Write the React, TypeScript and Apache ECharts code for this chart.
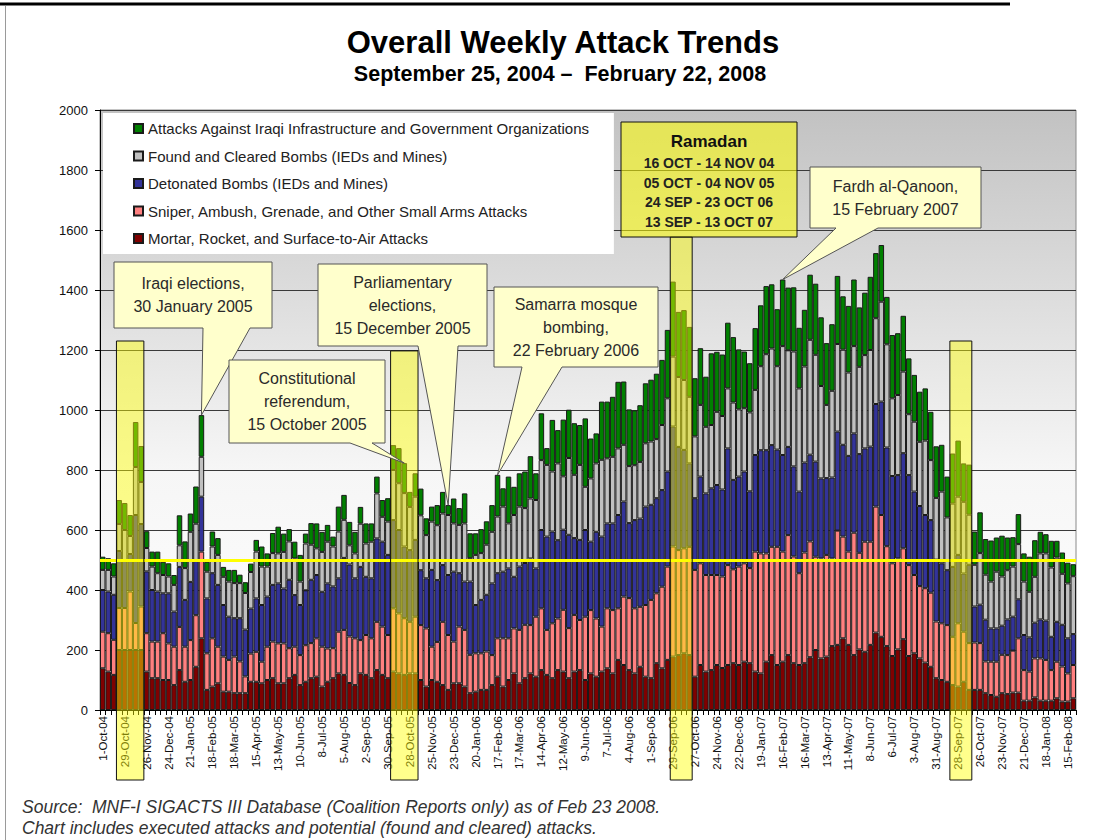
import React, { useEffect, useRef } from "react";
import * as echarts from "echarts";

const FONT = '"Liberation Sans", Arial, Helvetica, sans-serif';

const MONTHS = ["Jan", "Feb", "Mar", "Apr", "May", "Jun", "Jul", "Aug", "Sep", "Oct", "Nov", "Dec"];
const WEEK_COUNT = 178;
// week-ending dates, 1-Oct-04 ... 22-Feb-08
const weeks: string[] = Array.from({ length: WEEK_COUNT }, (_, i) => {
  const d = new Date(Date.UTC(2004, 9, 1 + 7 * i));
  return `${d.getUTCDate()}-${MONTHS[d.getUTCMonth()]}-${String(d.getUTCFullYear()).slice(2)}`;
});

const seriesNames = [
  "Attacks Against Iraqi Infrastructure and Government Organizations",
  "Found and Cleared Bombs (IEDs and Mines)",
  "Detonated Bombs (IEDs and Mines)",
  "Sniper, Ambush, Grenade, and Other Small Arms Attacks",
  "Mortar, Rocket, and Surface-to-Air Attacks",
];

const mortar = [
  139, 128, 117, 200, 200, 200, 200, 200, 128, 106,
  106, 100, 100, 83, 133, 94, 100, 144, 239, 67,
  78, 89, 61, 61, 56, 56, 56, 94, 94, 89,
  100, 106, 89, 89, 106, 117, 83, 94, 106, 111,
  78, 94, 106, 122, 117, 90, 83, 122, 117, 106,
  133, 117, 106, 128, 122, 117, 122, 122, 100, 78,
  100, 94, 83, 67, 89, 89, 78, 56, 61, 67,
  67, 83, 111, 78, 100, 122, 89, 106, 122, 111,
  133, 117, 106, 133, 128, 106, 128, 133, 100, 122,
  111, 128, 139, 122, 167, 150, 133, 122, 144, 111,
  106, 156, 139, 167, 178, 183, 189, 183, 111, 150,
  128, 133, 150, 140, 150, 156, 150, 161, 156, 128,
  122, 161, 183, 150, 161, 183, 156, 150, 156, 176,
  200, 172, 178, 213, 217, 239, 217, 183, 202, 194,
  217, 258, 244, 213, 180, 202, 236, 180, 189, 172,
  158, 144, 106, 100, 94, 83, 78, 94, 67, 67,
  67, 56, 50, 44, 56, 53, 58, 58, 31, 31,
  42, 31, 31, 31, 39, 28, 28, 39,
];

const smallArms = [
  122, 128, 117, 140, 140, 195, 90, 145, 128, 122,
  122, 156, 122, 128, 144, 117, 133, 172, 289, 122,
  161, 122, 117, 106, 122, 106, 56, 94, 100, 72,
  111, 122, 133, 133, 100, 94, 100, 122, 117, 128,
  133, 111, 100, 139, 150, 155, 156, 111, 133, 133,
  161, 161, 144, 211, 200, 189, 172, 189, 183, 194,
  111, 133, 211, 183, 139, 189, 189, 128, 128, 122,
  128, 100, 128, 161, 139, 150, 178, 178, 161, 200,
  206, 150, 183, 172, 206, 167, 189, 167, 211, 211,
  194, 150, 200, 211, 172, 228, 240, 217, 200, 239,
  261, 233, 272, 311, 367, 350, 350, 361, 356, 339,
  322, 317, 300, 305, 333, 313, 328, 328, 317, 400,
  400, 361, 361, 394, 367, 400, 356, 306, 369, 386,
  311, 333, 339, 292, 381, 339, 311, 408, 322, 367,
  344, 420, 406, 333, 309, 303, 303, 303, 261, 241,
  248, 247, 189, 189, 189, 161, 211, 167, 156, 158,
  156, 106, 111, 117, 128, 130, 140, 181, 102, 97,
  130, 141, 136, 102, 122, 117, 94, 111,
];

const detonated = [
  139, 139, 150, 190, 160, 125, 360, 275, 206, 172,
  167, 133, 167, 117, 200, 156, 194, 183, 183, 183,
  217, 206, 172, 144, 128, 144, 156, 150, 178, 189,
  167, 189, 200, 183, 228, 172, 167, 183, 211, 211,
  183, 217, 206, 178, 240, 240, 200, 244, 194, 200,
  278, 283, 267, 294, 278, 239, 239, 256, 183, 167,
  256, 206, 189, 200, 233, 178, 161, 244, 161, 178,
  189, 239, 217, 222, 233, 172, 211, 206, 222, 161,
  261, 311, 306, 261, 267, 311, 256, 267, 289, 228,
  289, 300, 283, 289, 311, 317, 250, 294, 294, 328,
  317, 317, 322, 317, 400, 344, 328, 278, 239, 289,
  272, 289, 300, 290, 389, 298, 300, 306, 256, 322,
  344, 344, 339, 324, 322, 294, 300, 272, 300, 289,
  317, 267, 256, 270, 330, 306, 319, 331, 329, 311,
  317, 342, 378, 329, 291, 278, 317, 300, 278, 267,
  244, 242, 206, 200, 183, 233, 228, 194, 261, 120,
  128, 139, 111, 111, 97, 119, 113, 130, 117, 114,
  119, 130, 131, 111, 133, 139, 117, 103,
];

const foundCleared = [
  67, 72, 61, 90, 100, 60, 160, 140, 78, 78,
  61, 61, 56, 89, 72, 106, 167, 122, 133, 89,
  89, 100, 94, 117, 117, 117, 122, 122, 156, 128,
  100, 106, 100, 122, 128, 122, 78, 156, 117, 89,
  133, 139, 133, 156, 127, 64, 83, 144, 111, 122,
  150, 83, 111, 167, 156, 178, 144, 144, 183, 144,
  161, 183, 172, 200, 161, 161, 194, 78, 167, 156,
  167, 172, 189, 217, 150, 206, 200, 183, 200, 228,
  233, 239, 200, 256, 178, 256, 211, 250, 144, 211,
  228, 256, 217, 222, 222, 189, 190, 183, 189, 211,
  211, 197, 217, 244, 233, 233, 233, 222, 206, 239,
  222, 211, 244, 245, 200, 258, 224, 211, 263, 217,
  280, 320, 322, 278, 363, 322, 383, 344, 320, 383,
  356, 308, 244, 289, 292, 317, 278, 291, 291, 311,
  322, 286, 333, 344, 259, 267, 272, 203, 233, 214,
  248, 200, 206, 239, 176, 211, 194, 239, 167, 139,
  172, 150, 156, 189, 164, 164, 167, 184, 178, 152,
  153, 220, 224, 231, 214, 170, 183, 193,
];

const infrastructure = [
  44, 39, 44, 80, 90, 70, 150, 120, 56, 50,
  72, 44, 44, 33, 100, 89, 61, 124, 139, 33,
  50, 56, 33, 39, 44, 28, 36, 28, 39, 67,
  44, 67, 89, 61, 41, 56, 89, 33, 72, 83,
  67, 56, 33, 83, 83, 78, 72, 56, 67, 61,
  56, 56, 78, 83, 117, 100, 50, 78, 89, 56,
  50, 67, 72, 33, 83, 56, 100, 83, 72, 80,
  78, 89, 139, 61, 156, 94, 111, 122, 141, 89,
  156, 56, 172, 111, 189, 161, 172, 133, 228, 133,
  100, 194, 189, 200, 222, 211, 189, 183, 189, 200,
  206, 218, 217, 228, 250, 217, 233, 233, 194, 189,
  167, 239, 200, 205, 219, 218, 200, 189, 164, 206,
  203, 227, 214, 190, 222, 209, 214, 202, 189, 217,
  237, 229, 206, 222, 227, 178, 222, 222, 198, 208,
  244, 217, 189, 158, 211, 206, 186, 186, 156, 167,
  174, 161, 172, 156, 136, 167, 187, 128, 167, 111,
  136, 119, 137, 114, 136, 109, 98, 100, 94, 117,
  122, 72, 64, 89, 56, 71, 69, 40,
];

// Ramadan periods as [first week index, last week index]
const ramadanWeeks = [
  [3, 7],
  [53, 57],
  [104, 107],
  [155, 158],
];
const ramadanLines = ["16 OCT - 14 NOV 04", "05 OCT - 04 NOV 05", "24 SEP - 23 OCT 06", "13 SEP - 13 OCT 07"];
const referenceLevel = 500;

// Event callouts: week index the pointer touches
const events = [
  { week: 18, lines: ["Iraqi elections,", "30 January 2005"] },
  { week: 55, lines: ["Constitutional", "referendum,", "15 October 2005"] },
  { week: 63, lines: ["Parliamentary", "elections,", "15 December 2005"] },
  { week: 72, lines: ["Samarra mosque", "bombing,", "22 February 2006"] },
  { week: 124, lines: ["Fardh al-Qanoon,", "15 February 2007"] },
];

// layout (pixels) for callout boxes: [x1, y1, x2, y2], pointer base [bx1, bx2]
const calloutLayout = [
  { box: [114, 262, 272, 328], base: [203, 250] },
  { box: [229, 360, 385, 443], base: [350, 372] },
  { box: [318, 264, 487, 346], base: [418, 458] },
  { box: [494, 287, 658, 367], base: [522, 562] },
  { box: [810, 167, 981, 228], base: [836, 878] },
];
const highlightTopValue = [1230, 1197, null, 1230];

const COLORS = ["#008000", "#c0c0c0", "#333399", "#ff8080", "#800000"];

export default function App() {
  const ref = useRef<HTMLDivElement>(null);

  useEffect(() => {
    const chart = echarts.init(ref.current as HTMLDivElement, null, { renderer: "svg" });
    const stackData = [mortar, smallArms, detonated, foundCleared, infrastructure];
    const stackNames = [seriesNames[4], seriesNames[3], seriesNames[2], seriesNames[1], seriesNames[0]];
    const stackColors = [COLORS[4], COLORS[3], COLORS[2], COLORS[1], COLORS[0]];

    const series: any[] = stackData.map((d, k) => ({
      name: stackNames[k],
      type: "bar",
      stack: "total",
      data: d,
      barCategoryGap: "0%",
      itemStyle: { color: stackColors[k], borderColor: "#1a1a1a", borderWidth: 1 },
      emphasis: { disabled: true },
      ...(k === 4
        ? {
            markLine: {
              silent: true,
              symbol: "none",
              label: { show: false },
              lineStyle: { color: "#ffff00", width: 3, type: "solid" },
              data: [{ yAxis: referenceLevel }],
            },
          }
        : {}),
    }));

    const option: any = {
      animation: false,
      backgroundColor: "#ffffff",
      textStyle: { fontFamily: FONT },
      legend: {
        orient: "vertical",
        left: 103,
        top: 113,
        data: seriesNames,
        backgroundColor: "#ffffff",
        padding: [8, 24, 8, 30],
        itemWidth: 9,
        itemHeight: 9,
        itemGap: 12.5,
        icon: "rect",
        textStyle: { fontSize: 15, color: "#222", fontFamily: FONT },
        selectedMode: false,
      },
      grid: {
        left: 100,
        right: 37,
        top: 110,
        bottom: 130,
        show: true,
        backgroundColor: new echarts.graphic.LinearGradient(0, 0, 0, 1, [
          { offset: 0, color: "#c2c2c2" },
          { offset: 0.6, color: "#f6f6f6" },
          { offset: 1, color: "#ffffff" },
        ]),
        borderColor: "#8a8a8a",
        borderWidth: 1,
      },
      xAxis: {
        type: "category",
        data: weeks,
        axisLine: { lineStyle: { color: "#000", width: 1 } },
        axisTick: { show: true, interval: 0, length: 5, lineStyle: { color: "#000" } },
        axisLabel: { interval: 3, rotate: 90, fontSize: 11.5, color: "#111", margin: 6, fontFamily: FONT },
        splitLine: { show: false },
      },
      yAxis: {
        type: "value",
        min: 0,
        max: 2000,
        interval: 200,
        axisLine: { show: true, lineStyle: { color: "#000" } },
        axisTick: { show: true, length: 5, lineStyle: { color: "#000" } },
        axisLabel: { fontSize: 13, color: "#111", margin: 12, fontFamily: FONT, formatter: (v: number) => String(v) },
        splitLine: { show: true, lineStyle: { color: "#3a3a3a", width: 1 } },
      },
      series,
    };
    chart.setOption(option);

    const px = (i: number, v: number) => chart.convertToPixel({ gridIndex: 0 }, [i, v]) as number[];
    const bw = px(1, 0)[0] - px(0, 0)[0];
    const totals = weeks.map((_, i) => stackData.reduce((s, arr) => s + arr[i], 0));

    const els: any[] = [];
    const txt = (text: string, x: number, y: number, font: string, fill = "#222", align = "center", lineHeight?: number, z = 60) => ({
      type: "text",
      x,
      y,
      z,
      silent: true,
      style: {
        text,
        font,
        fill,
        align,
        verticalAlign: "middle",
        textAlign: align,
        textVerticalAlign: "middle",
        lineHeight,
      },
    });

    // page frame
    els.push({ type: "line", z: 1, shape: { x1: 0, y1: 4, x2: 1010, y2: 4 }, style: { stroke: "#000", lineWidth: 3 } });
    els.push({ type: "line", z: 1, shape: { x1: 5.5, y1: 6, x2: 5.5, y2: 840 }, style: { stroke: "#9a9a9a", lineWidth: 1 } });

    // titles
    els.push(txt("Overall Weekly Attack Trends", 563, 42, `bold 31px ${FONT}`, "#000"));
    els.push(txt("September 25, 2004 \u2013  February 22, 2008", 560, 74, `bold 21.5px ${FONT}`, "#000"));

    // Ramadan highlight columns
    const ramBox = [621, 122, 797, 237];
    const labelBottom = 780;
    ramadanWeeks.forEach(([a, b], k) => {
      const x1 = px(a, 0)[0] - bw / 2;
      const x2 = px(b, 0)[0] + bw / 2;
      const topV = highlightTopValue[k];
      const y1 = topV == null ? ramBox[3] : px(a, topV)[1];
      els.push({
        type: "rect",
        z: 40,
        silent: true,
        shape: { x: x1, y: y1, width: x2 - x1, height: labelBottom - y1 },
        style: { fill: "rgba(255,255,0,0.45)", stroke: "#111", lineWidth: 1 },
      });
    });
    // Ramadan box
    els.push({
      type: "rect",
      z: 41,
      silent: true,
      shape: { x: ramBox[0], y: ramBox[1], width: ramBox[2] - ramBox[0], height: ramBox[3] - ramBox[1] },
      style: { fill: "rgba(255,255,0,0.55)", stroke: "#111", lineWidth: 1 },
    });
    els.push(txt("Ramadan", (ramBox[0] + ramBox[2]) / 2, 141, `bold 17px ${FONT}`, "#111"));
    ramadanLines.forEach((t, i) => {
      els.push(txt(t, (ramBox[0] + ramBox[2]) / 2, 163 + i * 19.5, `bold 14px ${FONT}`, "#222"));
    });

    // callouts
    events.forEach((ev, k) => {
      const L = calloutLayout[k];
      const [x1, y1, x2, y2] = L.box;
      const tip = px(ev.week, totals[ev.week]);
      els.push({
        type: "polygon",
        z: 50,
        silent: true,
        shape: {
          points: [
            [x1, y1],
            [x2, y1],
            [x2, y2],
            [L.base[1], y2],
            [tip[0], tip[1]],
            [L.base[0], y2],
            [x1, y2],
          ],
        },
        style: { fill: "#ffffcc", stroke: "#555", lineWidth: 1 },
      });
      els.push(txt(ev.lines.join("\n"), (x1 + x2) / 2, (y1 + y2) / 2, `16px ${FONT}`, "#2a2a2a", "center", 23));
    });

    // footer
    els.push(txt("Source:  MNF-I SIGACTS III Database (Coalition Reports only) as of Feb 23 2008.", 22, 807, `italic 17.5px ${FONT}`, "#333", "left"));
    els.push(txt("Chart includes executed attacks and potential (found and cleared) attacks.", 22, 828, `italic 17.5px ${FONT}`, "#333", "left"));

    chart.setOption({ graphic: { elements: els } });

    return () => chart.dispose();
  }, []);

  return <div ref={ref} style={{ position: "absolute", left: 0, top: 0, width: 1113, height: 840 }} />;
}
